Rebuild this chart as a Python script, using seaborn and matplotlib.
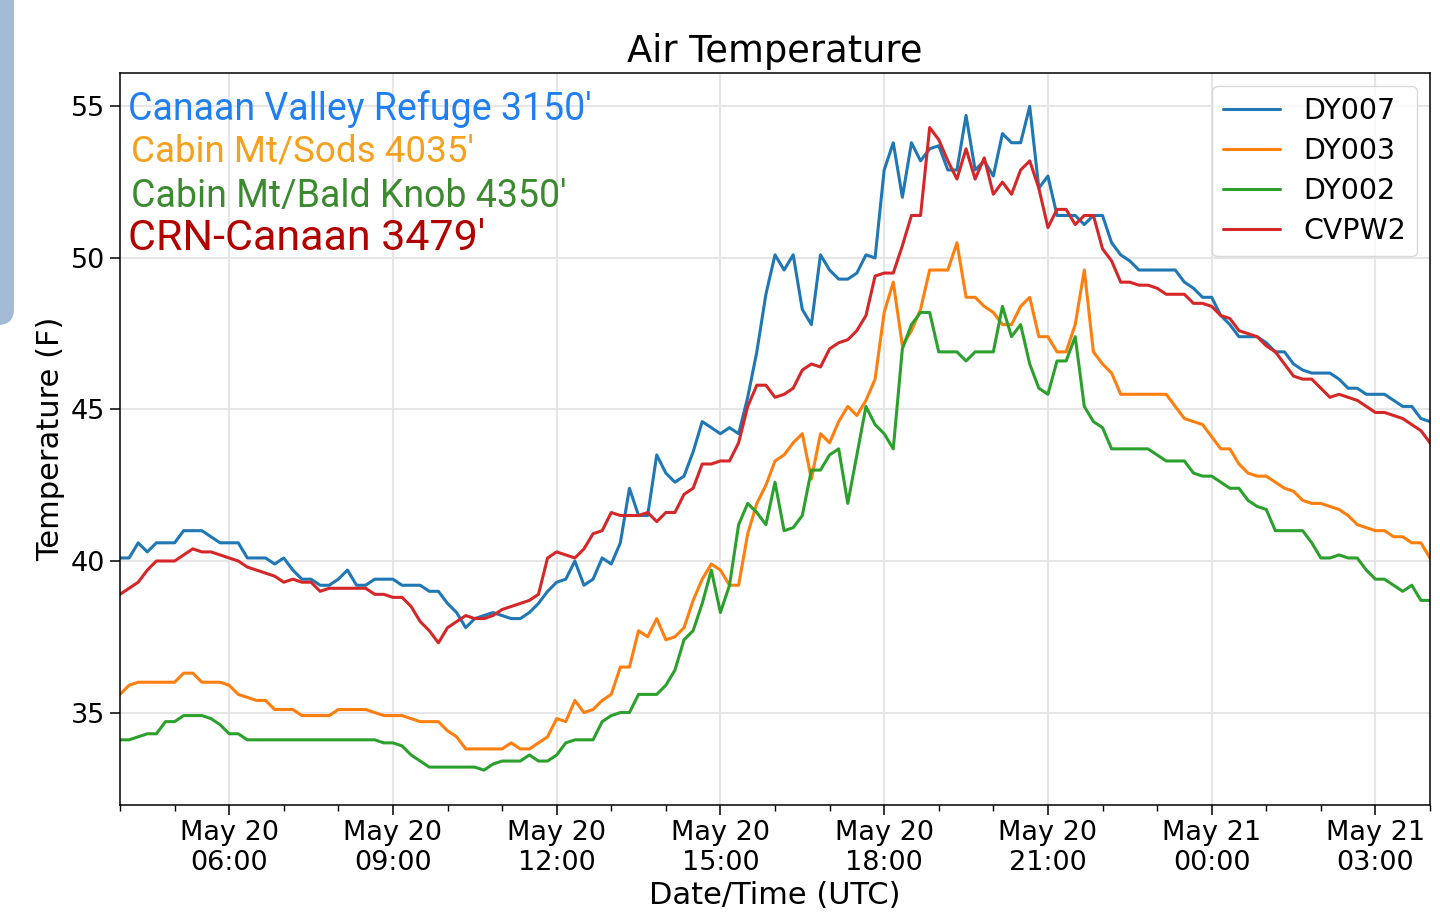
import pandas as pd
import matplotlib
matplotlib.use("Agg")
import matplotlib.pyplot as plt
import matplotlib.dates as mdates
from matplotlib.patches import FancyBboxPatch
from matplotlib.transforms import IdentityTransform
import seaborn as sns

# ---------------------------------------------------------------
# 10 minute readings, May 20 04:00 UTC -> May 21 04:00 UTC
start = "2018-05-20 04:00"
step = "10min"

dy007 = [40.1, 40.1, 40.6, 40.3, 40.6, 40.6, 40.6, 41.0, 41.0, 41.0,
         40.8, 40.6, 40.6, 40.6, 40.1, 40.1, 40.1, 39.9, 40.1, 39.7,
         39.4, 39.4, 39.2, 39.2, 39.4, 39.7, 39.2, 39.2, 39.4, 39.4,
         39.4, 39.2, 39.2, 39.2, 39.0, 39.0, 38.6, 38.3, 37.8, 38.1,
         38.2, 38.3, 38.2, 38.1, 38.1, 38.3, 38.6, 39.0, 39.3, 39.4,
         40.0, 39.2, 39.4, 40.1, 39.9, 40.6, 42.4, 41.5, 41.5, 43.5,
         42.9, 42.6, 42.8, 43.6, 44.6, 44.4, 44.2, 44.4, 44.2, 45.4,
         46.9, 48.8, 50.1, 49.6, 50.1, 48.3, 47.8, 50.1, 49.6, 49.3,
         49.3, 49.5, 50.1, 50.0, 52.9, 53.8, 52.0, 53.8, 53.2, 53.6,
         53.7, 52.9, 52.9, 54.7, 52.9, 53.2, 52.7, 54.1, 53.8, 53.8,
         55.0, 52.3, 52.7, 51.4, 51.4, 51.4, 51.1, 51.4, 51.4, 50.5,
         50.1, 49.9, 49.6, 49.6, 49.6, 49.6, 49.6, 49.2, 49.0, 48.7,
         48.7, 48.1, 47.8, 47.4, 47.4, 47.4, 47.2, 46.9, 46.9, 46.5,
         46.3, 46.2, 46.2, 46.2, 46.0, 45.7, 45.7, 45.5, 45.5, 45.5,
         45.3, 45.1, 45.1, 44.7, 44.6]

dy003 = [35.6, 35.9, 36.0, 36.0, 36.0, 36.0, 36.0, 36.3, 36.3, 36.0,
         36.0, 36.0, 35.9, 35.6, 35.5, 35.4, 35.4, 35.1, 35.1, 35.1,
         34.9, 34.9, 34.9, 34.9, 35.1, 35.1, 35.1, 35.1, 35.0, 34.9,
         34.9, 34.9, 34.8, 34.7, 34.7, 34.7, 34.4, 34.2, 33.8, 33.8,
         33.8, 33.8, 33.8, 34.0, 33.8, 33.8, 34.0, 34.2, 34.8, 34.7,
         35.4, 35.0, 35.1, 35.4, 35.6, 36.5, 36.5, 37.7, 37.5, 38.1,
         37.4, 37.5, 37.8, 38.7, 39.4, 39.9, 39.7, 39.2, 39.2, 40.9,
         41.9, 42.5, 43.3, 43.5, 43.9, 44.2, 42.7, 44.2, 43.9, 44.6,
         45.1, 44.8, 45.3, 46.0, 48.2, 49.2, 47.1, 47.6, 48.3, 49.6,
         49.6, 49.6, 50.5, 48.7, 48.7, 48.4, 48.2, 47.8, 47.8, 48.4,
         48.7, 47.4, 47.4, 46.9, 46.9, 47.8, 49.6, 46.9, 46.5, 46.2,
         45.5, 45.5, 45.5, 45.5, 45.5, 45.5, 45.1, 44.7, 44.6, 44.5,
         44.1, 43.7, 43.7, 43.2, 42.9, 42.8, 42.8, 42.6, 42.4, 42.3,
         42.0, 41.9, 41.9, 41.8, 41.7, 41.5, 41.2, 41.1, 41.0, 41.0,
         40.8, 40.8, 40.6, 40.6, 40.1]

dy002 = [34.1, 34.1, 34.2, 34.3, 34.3, 34.7, 34.7, 34.9, 34.9, 34.9,
         34.8, 34.6, 34.3, 34.3, 34.1, 34.1, 34.1, 34.1, 34.1, 34.1,
         34.1, 34.1, 34.1, 34.1, 34.1, 34.1, 34.1, 34.1, 34.1, 34.0,
         34.0, 33.9, 33.6, 33.4, 33.2, 33.2, 33.2, 33.2, 33.2, 33.2,
         33.1, 33.3, 33.4, 33.4, 33.4, 33.6, 33.4, 33.4, 33.6, 34.0,
         34.1, 34.1, 34.1, 34.7, 34.9, 35.0, 35.0, 35.6, 35.6, 35.6,
         35.9, 36.4, 37.4, 37.7, 38.6, 39.7, 38.3, 39.2, 41.2, 41.9,
         41.6, 41.2, 42.6, 41.0, 41.1, 41.5, 43.0, 43.0, 43.5, 43.7,
         41.9, 43.5, 45.1, 44.5, 44.2, 43.7, 47.0, 47.8, 48.2, 48.2,
         46.9, 46.9, 46.9, 46.6, 46.9, 46.9, 46.9, 48.4, 47.4, 47.8,
         46.5, 45.7, 45.5, 46.6, 46.6, 47.4, 45.1, 44.6, 44.4, 43.7,
         43.7, 43.7, 43.7, 43.7, 43.5, 43.3, 43.3, 43.3, 42.9, 42.8,
         42.8, 42.6, 42.4, 42.4, 42.0, 41.8, 41.7, 41.0, 41.0, 41.0,
         41.0, 40.6, 40.1, 40.1, 40.2, 40.1, 40.1, 39.7, 39.4, 39.4,
         39.2, 39.0, 39.2, 38.7, 38.7]

cvpw2 = [38.9, 39.1, 39.3, 39.7, 40.0, 40.0, 40.0, 40.2, 40.4, 40.3,
         40.3, 40.2, 40.1, 40.0, 39.8, 39.7, 39.6, 39.5, 39.3, 39.4,
         39.3, 39.3, 39.0, 39.1, 39.1, 39.1, 39.1, 39.1, 38.9, 38.9,
         38.8, 38.8, 38.5, 38.0, 37.7, 37.3, 37.8, 38.0, 38.2, 38.1,
         38.1, 38.2, 38.4, 38.5, 38.6, 38.7, 38.9, 40.1, 40.3, 40.2,
         40.1, 40.4, 40.9, 41.0, 41.6, 41.5, 41.5, 41.5, 41.6, 41.3,
         41.6, 41.6, 42.2, 42.4, 43.2, 43.2, 43.3, 43.3, 43.9, 45.1,
         45.8, 45.8, 45.4, 45.5, 45.7, 46.3, 46.5, 46.4, 47.0, 47.2,
         47.3, 47.6, 48.1, 49.4, 49.5, 49.5, 50.4, 51.4, 51.4, 54.3,
         53.9, 53.2, 52.6, 53.6, 52.6, 53.3, 52.1, 52.5, 52.1, 52.9,
         53.2, 52.3, 51.0, 51.6, 51.6, 51.1, 51.4, 51.4, 50.3, 49.9,
         49.2, 49.2, 49.1, 49.1, 49.0, 48.8, 48.8, 48.8, 48.5, 48.5,
         48.4, 48.1, 48.0, 47.6, 47.5, 47.4, 47.1, 46.9, 46.5, 46.1,
         46.0, 46.0, 45.7, 45.4, 45.5, 45.4, 45.3, 45.1, 44.9, 44.9,
         44.8, 44.7, 44.5, 44.3, 43.9]

stations = ["DY007", "DY003", "DY002", "CVPW2"]
line_colors = ["tab:blue", "tab:orange", "tab:green", "tab:red"]
site_names = ["Canaan Valley Refuge 3150'", "Cabin Mt/Sods 4035'",
              "Cabin Mt/Bald Knob 4350'", "CRN-Canaan 3479'"]
site_colors = ["#1f7ff0", "#f5a11d", "#3c8a30", "#b30000"]

# ---------------------------------------------------------------
# long form table for seaborn
times = pd.date_range(start, periods=len(dy007), freq=step)
frames = []
for name, vals in zip(stations, [dy007, dy003, dy002, cvpw2]):
    frames.append(pd.DataFrame({"time": times, "temp": vals, "station": name}))
df = pd.concat(frames, ignore_index=True)

sns.set_style("ticks", {"axes.edgecolor": "black", "xtick.color": "black",
                        "ytick.color": "black", "text.color": "black",
                        "axes.labelcolor": "black"})
plt.rcParams["font.family"] = ["DejaVu Sans"]

fig = plt.figure(figsize=(14.4, 9.24), dpi=100)
ax = fig.add_axes([120 / 1440, 1 - 805 / 924, 1310 / 1440, 732 / 924])

sns.lineplot(data=df, x="time", y="temp", hue="station", hue_order=stations,
             palette=line_colors, linewidth=2.2, legend=False, ax=ax)

ax.set_xlim(times[0], times[-1])
ax.set_ylim(31.95, 56.1)
ax.set_yticks([35, 40, 45, 50, 55])

ax.xaxis.set_major_locator(mdates.HourLocator(byhour=range(0, 24, 3)))
ax.xaxis.set_minor_locator(mdates.HourLocator())
ax.xaxis.set_major_formatter(mdates.DateFormatter("%b %d\n%H:%M"))
ax.tick_params(which="major", length=7, width=1.1, labelsize=19.5)
ax.tick_params(which="minor", length=4, width=1.0)
ax.grid(True, which="major", color="#e6e6e6", linewidth=1.5)
for sp in ax.spines.values():
    sp.set_linewidth(1.1)
    sp.set_color("black")

ax.set_title("Air Temperature", fontsize=26.5, pad=8)
ax.set_xlabel("Date/Time (UTC)", fontsize=22)
ax.set_ylabel("Temperature (F)", fontsize=22)

ax.legend(ax.get_lines()[:4], stations, loc="upper right", fontsize=20.5,
          frameon=True, edgecolor="#d0d0d0", fancybox=True,
          labelspacing=0.42, borderaxespad=0.45)

# station names written on the plot
name_y = [120, 162, 207, 250]
name_x = [128, 131, 131, 128]
name_size = [27, 26.5, 27, 31]
for txt, col, xx, yy, fs in zip(site_names, site_colors, name_x, name_y, name_size):
    fig.text(xx / 1440, 1 - yy / 924, txt, color=col, fontsize=fs,
             family=["Roboto", "DejaVu Sans"], ha="left", va="baseline")

# the pale tab at the left edge of the screenshot
tab = FancyBboxPatch((-30, 924 - 325), 44, 360,
                     boxstyle="round,pad=0,rounding_size=16",
                     facecolor="#a3bbd4", edgecolor="none",
                     transform=IdentityTransform())
fig.add_artist(tab)

fig.savefig("out.png", dpi=100)
